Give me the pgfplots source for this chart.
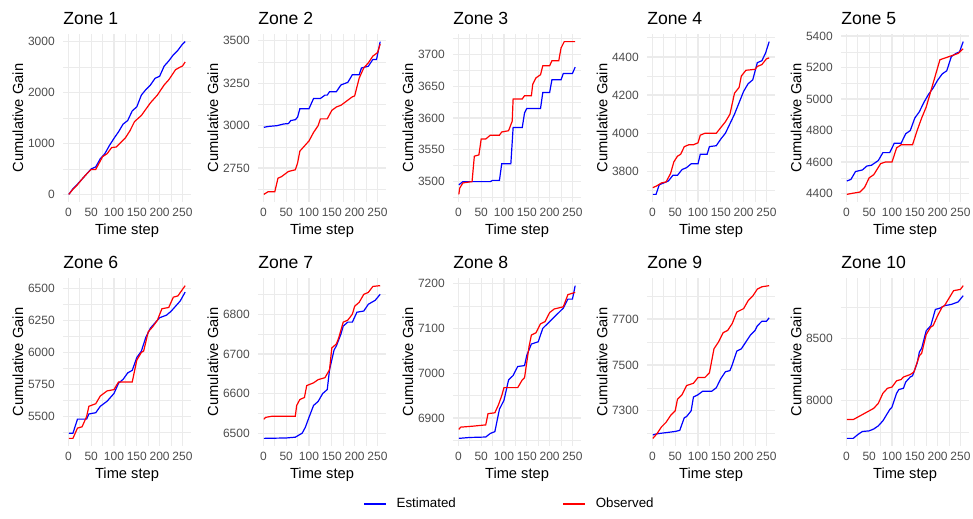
\documentclass[border=0pt]{standalone}
\usepackage{pgfplots}
\pgfplotsset{compat=1.18}
\usepackage{fontspec}
\setmainfont{Liberation Sans}
\definecolor{gridc}{HTML}{EBEBEB}
\definecolor{tickc}{HTML}{4D4D4D}
\definecolor{estc}{HTML}{0000FF}
\definecolor{obsc}{HTML}{FF0000}
\pgfplotsset{
 zone/.style={
  scale only axis, width=96pt, height=126pt, anchor=south west,
  xmin=-11.75, xmax=268.75, xtick={0,50,100,150,200,250},
  minor x tick num=1,
  grid=both,
  major grid style={draw=gridc, line width=1pt},
  minor grid style={draw=gridc, line width=0.5pt},
  axis line style={draw=none},
  major tick length=0pt, minor tick length=0pt,
  scaled ticks=false,
  /pgf/number format/1000 sep={},
  /pgf/number format/assume math mode=true,
  tick label style={font=\fontsize{9}{10}\selectfont, text=tickc},
  yticklabel style={anchor=east, inner sep=0pt, xshift=-6pt},
  xticklabel style={anchor=north, inner sep=0pt, yshift=-4.5pt},
  xlabel={Time step}, ylabel={Cumulative Gain},
  every axis x label/.style={at={(axis description cs:0.5,0)}, anchor=base, yshift=-24.4pt, font=\fontsize{11}{13}\selectfont},
  every axis y label/.style={at={(axis description cs:0,0.5)}, xshift=-33.75pt, rotate=90, anchor=center, font=\fontsize{11}{13}\selectfont},
  every axis title/.style={at={(axis description cs:0,1)}, anchor=base west, inner sep=0pt, yshift=7.5pt, font=\fontsize{13.2}{15}\selectfont},
 },
 est/.style={draw=estc, line width=0.9pt},
 obs/.style={draw=obsc, line width=0.9pt},
}
\begin{document}
\begin{tikzpicture}
\path[use as bounding box] (0,0) rectangle (729.75pt,-388.5pt);
% Zone 1
\begin{axis}[zone, at={(47.25pt,-151.5pt)}, title={Zone 1},
  ymin=-150, ymax=3150, ytick={0,1000,2000,3000}, minor ytick={500,1500,2500}]
\addplot[est] coordinates {(1,0) (10,110) (20,200) (30,300) (40,400) (50,500) (60,540) (70,700) (80,800) (90,960) (100,1100) (110,1230) (120,1380) (130,1450) (140,1640) (150,1720) (160,1950) (170,2060) (180,2150) (190,2280) (200,2320) (210,2520) (220,2620) (230,2740) (240,2830) (250,2950) (256,3000)};
\addplot[obs] coordinates {(1,0) (10,100) (20,190) (30,300) (40,400) (50,490) (60,490) (75,740) (85,800) (95,920) (105,930) (125,1110) (135,1250) (145,1430) (160,1550) (180,1800) (195,1950) (210,2150) (220,2250) (235,2450) (245,2500) (250,2520) (256,2600)};
\end{axis}
% Zone 2
\begin{axis}[zone, at={(193.5pt,-151.5pt)}, title={Zone 2},
  ymin=2550, ymax=3540, ytick={2750,3000,3250,3500}, minor ytick={2625,2875,3125,3375}]
\addplot[est] coordinates {(1,2990) (10,2995) (30,3000) (45,3010) (55,3012) (60,3030) (70,3035) (75,3050) (80,3100) (100,3100) (110,3160) (125,3160) (135,3180) (140,3180) (145,3200) (160,3200) (170,3240) (185,3255) (195,3300) (210,3300) (215,3340) (230,3350) (240,3390) (248,3390) (256,3495)};
\addplot[obs] coordinates {(1,2595) (10,2610) (25,2610) (32,2690) (40,2700) (45,2710) (55,2730) (70,2740) (75,2780) (80,2850) (90,2880) (100,2910) (110,2960) (120,3000) (125,3040) (140,3040) (150,3090) (160,3110) (170,3120) (180,3140) (195,3170) (200,3175) (210,3280) (220,3340) (230,3370) (240,3410) (250,3430) (256,3480)};
\end{axis}
% Zone 3
\begin{axis}[zone, at={(339.75pt,-151.5pt)}, title={Zone 3},
  ymin=3468, ymax=3732, ytick={3500,3550,3600,3650,3700}, minor ytick={3475,3525,3575,3625,3675,3725}]
\addplot[est] coordinates {(1,3495) (10,3500) (70,3500) (75,3502) (90,3502) (95,3528) (115,3528) (120,3585) (140,3585) (145,3608) (150,3615) (180,3615) (185,3640) (200,3640) (205,3660) (225,3660) (230,3670) (250,3670) (256,3680)};
\addplot[obs] coordinates {(1,3480) (3,3490) (10,3498) (30,3500) (35,3540) (45,3542) (50,3567) (60,3567) (70,3573) (90,3573) (95,3578) (110,3580) (118,3595) (120,3630) (140,3630) (145,3635) (160,3635) (163,3653) (170,3663) (180,3668) (185,3682) (200,3682) (205,3690) (220,3690) (225,3710) (232,3720) (256,3720)};
\end{axis}
% Zone 4
\begin{axis}[zone, at={(485.25pt,-151.5pt)}, title={Zone 4},
  ymin=3640, ymax=4520, ytick={3800,4000,4200,4400}, minor ytick={3700,3900,4100,4300,4500}]
\addplot[est] coordinates {(1,3680) (8,3680) (15,3730) (25,3740) (35,3750) (45,3780) (55,3780) (65,3810) (75,3820) (85,3840) (100,3840) (105,3890) (120,3890) (125,3930) (140,3935) (150,3970) (160,4000) (170,4050) (180,4100) (190,4160) (200,4220) (210,4260) (220,4280) (230,4370) (240,4380) (248,4420) (256,4480)};
\addplot[obs] coordinates {(1,3715) (10,3725) (20,3740) (30,3745) (40,3790) (47,3850) (55,3880) (62,3890) (70,3930) (80,3940) (90,3940) (100,3950) (105,3990) (115,4000) (140,4000) (150,4030) (160,4060) (170,4100) (180,4210) (190,4240) (195,4300) (205,4330) (225,4335) (230,4350) (240,4360) (250,4390) (256,4395)};
\end{axis}
% Zone 5
\begin{axis}[zone, at={(630.75pt,-151.5pt)}, title={Zone 5},
  ymin=4346.5, ymax=5413.5, ytick={4400,4600,4800,5000,5200,5400}, minor ytick={4500,4700,4900,5100,5300}]
\addplot[est] coordinates {(1,4480) (10,4490) (20,4540) (35,4550) (45,4575) (55,4580) (65,4600) (70,4610) (80,4660) (95,4660) (105,4720) (120,4720) (130,4780) (140,4800) (150,4880) (160,4920) (170,4980) (180,5030) (190,5070) (200,5120) (210,5160) (220,5180) (230,5270) (240,5290) (248,5300) (256,5365)};
\addplot[obs] coordinates {(1,4395) (10,4400) (30,4410) (40,4440) (50,4500) (60,4520) (75,4590) (85,4600) (100,4600) (110,4690) (120,4710) (145,4710) (155,4800) (165,4880) (175,4950) (185,5050) (195,5150) (205,5250) (215,5260) (225,5270) (235,5280) (245,5290) (256,5320)};
\end{axis}
% Zone 6
\begin{axis}[zone, at={(47.25pt,-334.5pt)}, title={Zone 6},
  ymin=5270.5, ymax=6579.5, ytick={5500,5750,6000,6250,6500}, minor ytick={5375,5625,5875,6125,6375}]
\addplot[est] coordinates {(1,5370) (10,5370) (20,5480) (40,5480) (45,5520) (60,5530) (70,5580) (85,5620) (100,5680) (110,5760) (120,5790) (130,5840) (140,5860) (150,5960) (160,6010) (170,6120) (180,6190) (190,6230) (200,6270) (215,6290) (225,6320) (235,6360) (245,6400) (256,6470)};
\addplot[obs] coordinates {(1,5330) (10,5330) (20,5410) (30,5420) (40,5500) (45,5580) (60,5600) (70,5660) (85,5700) (100,5710) (110,5770) (140,5770) (150,5940) (160,6000) (165,6010) (175,6160) (185,6200) (195,6250) (205,6340) (220,6350) (230,6430) (240,6440) (256,6520)};
\end{axis}
% Zone 7
\begin{axis}[zone, at={(193.5pt,-334.5pt)}, title={Zone 7},
  ymin=6467.75, ymax=6891.25, ytick={6500,6600,6700,6800}, minor ytick={6550,6650,6750,6850}]
\addplot[est] coordinates {(1,6487) (50,6488) (70,6490) (85,6500) (92,6515) (100,6540) (110,6570) (120,6580) (130,6600) (140,6610) (145,6660) (155,6710) (160,6720) (170,6750) (175,6770) (185,6780) (195,6780) (205,6805) (220,6808) (230,6825) (245,6835) (256,6850)};
\addplot[obs] coordinates {(1,6535) (5,6540) (20,6543) (70,6543) (73,6570) (80,6585) (90,6590) (95,6620) (110,6627) (120,6635) (135,6640) (140,6650) (145,6660) (150,6715) (160,6725) (165,6740) (175,6780) (185,6785) (195,6800) (200,6820) (210,6830) (220,6850) (230,6855) (240,6870) (256,6872)};
\end{axis}
% Zone 8
\begin{axis}[zone, at={(339.75pt,-334.5pt)}, title={Zone 8},
  ymin=6838, ymax=7212, ytick={6900,7000,7100,7200}, minor ytick={6850,6950,7050,7150},
  legend columns=2,
  legend style={at={(axis description cs:0.4336,-0.345)}, anchor=center, draw=none, fill=none,
    font=\fontsize{10}{12}\selectfont, inner sep=0pt, nodes={inner sep=0pt},
    /tikz/every odd column/.append style={column sep=7.5pt},
    /tikz/every even column/.append style={column sep=80pt}},
  legend image code/.code={\draw[#1] (0pt,0pt) -- (16.5pt,0pt);}]
\addplot[est] coordinates {(1,6855) (25,6857) (60,6858) (70,6866) (80,6870) (90,6920) (100,6940) (110,6985) (120,6995) (130,7015) (145,7017) (150,7040) (160,7065) (175,7070) (185,7100) (200,7115) (215,7130) (230,7145) (240,7165) (250,7165) (256,7195)};
\addlegendentry{Estimated}
\addplot[obs] coordinates {(1,6875) (5,6880) (30,6882) (60,6885) (65,6910) (80,6912) (88,6930) (95,6950) (100,6968) (130,6968) (140,6985) (145,6990) (155,7060) (160,7085) (170,7090) (180,7110) (190,7115) (200,7135) (210,7143) (230,7148) (240,7175) (256,7180)};
\addlegendentry{Observed}
\end{axis}
% Zone 9
\begin{axis}[zone, at={(485.25pt,-334.5pt)}, title={Zone 9},
  ymin=7146.75, ymax=7878.25, ytick={7300,7500,7700}, minor ytick={7200,7400,7600,7800}]
\addplot[est] coordinates {(1,7195) (10,7200) (30,7205) (50,7210) (60,7215) (70,7270) (75,7275) (85,7300) (90,7360) (100,7370) (110,7385) (130,7385) (140,7400) (150,7440) (160,7470) (170,7475) (175,7500) (185,7560) (195,7570) (205,7600) (215,7630) (225,7650) (230,7670) (240,7690) (250,7690) (256,7705)};
\addplot[obs] coordinates {(1,7180) (10,7200) (20,7230) (30,7250) (40,7280) (50,7300) (55,7350) (65,7370) (75,7410) (90,7420) (100,7445) (115,7445) (125,7465) (135,7570) (145,7600) (155,7640) (165,7650) (175,7680) (185,7730) (200,7745) (210,7780) (220,7800) (230,7830) (240,7840) (256,7845)};
\end{axis}
% Zone 10
\begin{axis}[zone, at={(630.75pt,-334.5pt)}, title={Zone 10},
  ymin=7639, ymax=8981, ytick={8000,8500}, minor ytick={7750,8250,8750}]
\addplot[est] coordinates {(1,7700) (15,7700) (25,7730) (35,7755) (50,7760) (60,7775) (70,7800) (80,7840) (95,7930) (100,7950) (110,8060) (115,8090) (125,8100) (130,8150) (140,8190) (145,8200) (155,8300) (160,8390) (165,8420) (175,8560) (185,8600) (195,8730) (205,8740) (215,8760) (230,8770) (245,8790) (256,8840)};
\addplot[obs] coordinates {(1,7850) (15,7850) (25,7870) (35,7890) (45,7910) (60,7940) (70,7980) (80,8060) (90,8100) (100,8110) (110,8160) (120,8170) (125,8190) (140,8210) (148,8230) (160,8360) (165,8380) (175,8530) (185,8590) (190,8600) (200,8680) (210,8750) (215,8760) (225,8820) (235,8880) (250,8890) (256,8920)};
\end{axis}
\end{tikzpicture}
\end{document}
